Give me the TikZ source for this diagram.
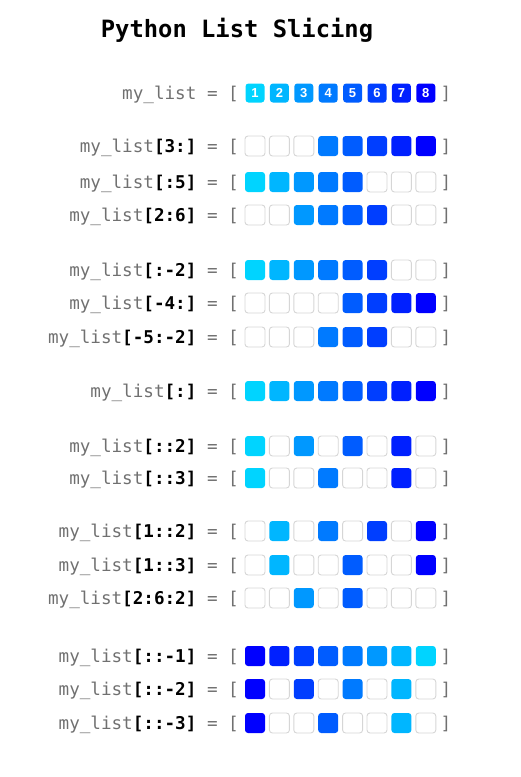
\documentclass[tikz,border=0pt]{standalone}
\usepackage{fontspec}
\setmonofont{DejaVu Sans Mono}
\setsansfont{Liberation Sans}
\usepackage{xcolor}
\usetikzlibrary{positioning}
\definecolor{labelgray}{RGB}{112,112,112}
\definecolor{emptyedge}{RGB}{214,214,214}
\definecolor{elem1}{RGB}{0,212,255}
\definecolor{elem2}{RGB}{0,182,255}
\definecolor{elem3}{RGB}{0,152,255}
\definecolor{elem4}{RGB}{0,122,255}
\definecolor{elem5}{RGB}{0,92,255}
\definecolor{elem6}{RGB}{0,62,255}
\definecolor{elem7}{RGB}{0,32,255}
\definecolor{elem8}{RGB}{0,0,255}

\tikzset{
  cell/.style={minimum size=20pt, inner sep=0pt, rounded corners=3pt,
    draw=emptyedge, line width=0.9pt, fill=white},
  fullcell/.style={cell, draw=none, fill=elem#1},
  numcell/.style={fullcell=#1, minimum size=19pt, text=white,
    font=\fontsize{13}{14}\sffamily\bfseries},
  rowlabel/.style={anchor=east, inner sep=0pt, text=labelgray,
    text height=17pt, text depth=4pt, font=\fontsize{17.6}{20}\ttfamily},
  brack/.style={inner sep=0pt, text=labelgray,
    text height=17pt, text depth=4pt, font=\fontsize{17.6}{20}\ttfamily}
}

% one row: y, name, slice, cells (0 = empty)
\newcommand{\slicerow}[4]{%
  \node[rowlabel] (lab-#2) at (239,#1)
    {my\_list\textcolor{black}{\bfseries #3} = [};
  \foreach \v [count=\i from 0] in {#4} {
    \ifnum\v=0
      \node[cell] (c-#2-\i) at (255+24.4*\i,#1) {};
    \else
      \node[fullcell=\v] (c-#2-\i) at (255+24.4*\i,#1) {};
    \fi
  }
  \node[brack] (close-#2) at (446,#1) {]};
}

\begin{document}
\begin{tikzpicture}[x=1pt, y=-1pt]
  \useasboundingbox (0,0) rectangle (520,777);

  \node[anchor=base, inner sep=0pt, font=\fontsize{23.8}{26}\ttfamily\bfseries]
    (title) at (237,37) {Python List Slicing};

  % the list itself
  \node[rowlabel] (lab-top) at (239,93) {my\_list = [};
  \foreach \k [count=\i from 0] in {1,...,8}
    \node[numcell=\k] (c-top-\i) at (255+24.4*\i,93) {\k};
  \node[brack] (close-top) at (446,93) {]};

  % start and stop
  \slicerow{146}{r1}{[3:]}{0,0,0,4,5,6,7,8}
  \slicerow{182}{r2}{[:5]}{1,2,3,4,5,0,0,0}
  \slicerow{215}{r3}{[2:6]}{0,0,3,4,5,6,0,0}

  % negative indices
  \slicerow{270}{r4}{[:-2]}{1,2,3,4,5,6,0,0}
  \slicerow{303}{r5}{[-4:]}{0,0,0,0,5,6,7,8}
  \slicerow{337}{r6}{[-5:-2]}{0,0,0,4,5,6,0,0}

  % copy
  \slicerow{391}{r7}{[:]}{1,2,3,4,5,6,7,8}

  % steps
  \slicerow{446}{r8}{[::2]}{1,0,3,0,5,0,7,0}
  \slicerow{478}{r9}{[::3]}{1,0,0,4,0,0,7,0}

  \slicerow{531}{r10}{[1::2]}{0,2,0,4,0,6,0,8}
  \slicerow{565}{r11}{[1::3]}{0,2,0,0,5,0,0,8}
  \slicerow{598}{r12}{[2:6:2]}{0,0,3,0,5,0,0,0}

  % negative steps
  \slicerow{656}{r13}{[::-1]}{8,7,6,5,4,3,2,1}
  \slicerow{689}{r14}{[::-2]}{8,0,6,0,4,0,2,0}
  \slicerow{723}{r15}{[::-3]}{8,0,0,5,0,0,2,0}
\end{tikzpicture}
\end{document}
